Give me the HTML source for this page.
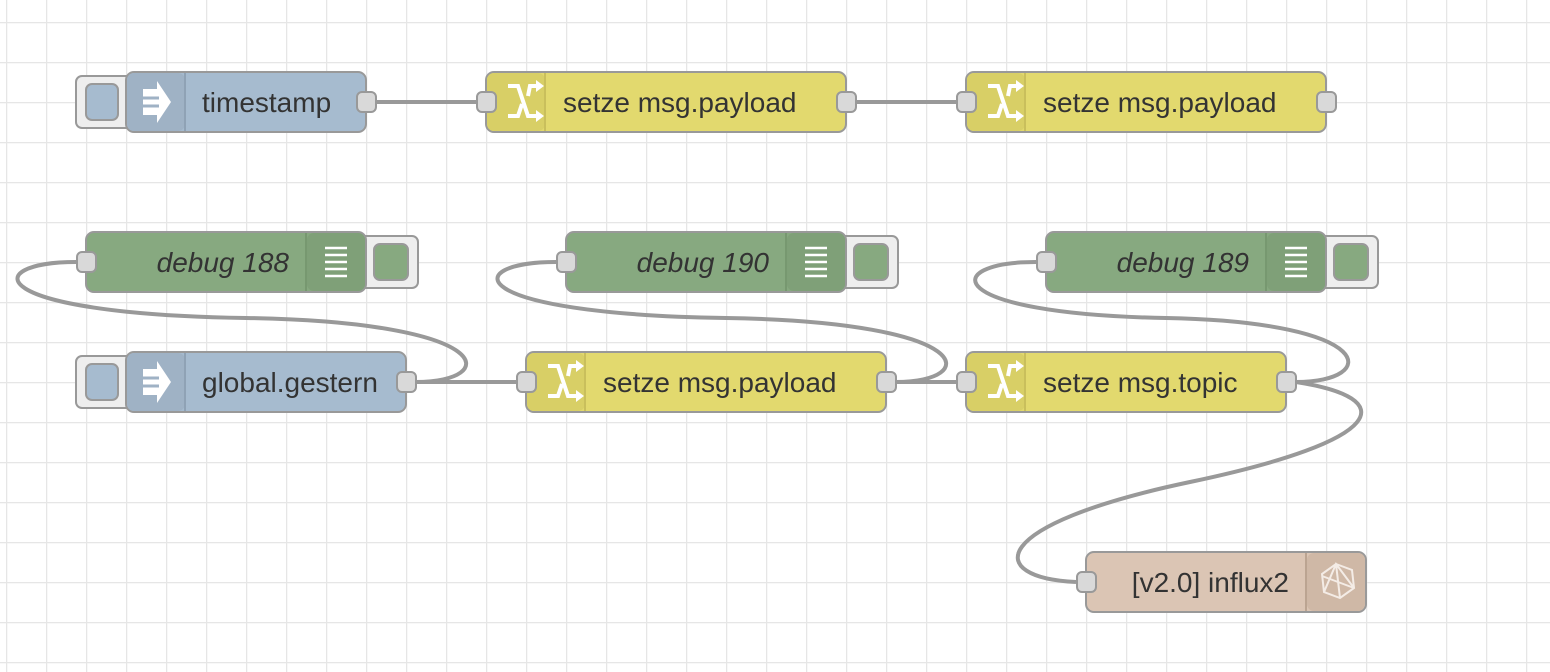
<!DOCTYPE html>
<html><head><meta charset="utf-8"><style>
html,body{margin:0;padding:0;background:#fff;width:1550px;height:672px;overflow:hidden}
svg text{font-family:"Liberation Sans",Helvetica,Arial,sans-serif;font-size:28px;fill:#333}
</style></head><body>
<svg width="1550" height="672" xmlns="http://www.w3.org/2000/svg">
<defs>
<pattern id="g" x="6" y="22" width="40" height="40" patternUnits="userSpaceOnUse">
<path d="M0 0H40M0 0V40" stroke="#e6e6e6" stroke-width="2.5" fill="none"/>
</pattern>
<g id="chg"><path d="M12 6h10l10 30h10M12 36h10l4-12M32 16l2-10h8" stroke="#fff" stroke-width="4" fill="none"/><path d="M40 0l8 6-8 6zM40 30l8 6-8 6z" fill="#fff"/></g>
<g id="inj"><path d="M0 -13h14v-8l14 21-14 21v-8H0z" fill="#fff"/><path d="M0 -4h16M0 4h16" stroke="#9fb2c5" stroke-width="3"/></g>
<g id="dbg"><path d="M0 0h22M0 7h22M0 14h22M0 21h22M0 28h22" stroke="#fff" stroke-width="2.5"/></g>
</defs>
<rect width="1550" height="672" fill="url(#g)"/>
<g fill="none" stroke="#999" stroke-width="4">
<path d="M376 102H476"/><path d="M856 102H956"/>
<path d="M416 382H516"/><path d="M896 382H956"/>
<path d="M416 382C500 382 500 322 246 318C-20 314 -20 262 76 262"/>
<path d="M896 382C980 382 980 322 726 318C460 314 460 262 556 262"/>
<path d="M1296 382C1380 382 1380 322 1166 318C940 314 940 262 1036 262"/>
<path d="M1296 382C1400 398 1390 440 1190 482C985 525 985 578 1076 582"/>
</g>
<g stroke="#999" stroke-width="2">
<rect x="76" y="76" width="60" height="52" rx="6" fill="#eee"/>
<rect x="86" y="84" width="32" height="36" rx="6" fill="#a6bbcf"/>
<rect x="126" y="72" width="240" height="60" rx="8" fill="#a6bbcf"/>
<rect x="127" y="73" width="58" height="58" rx="7" fill="#9fb2c5" stroke="none"/>
<line x1="185" y1="73" x2="185" y2="131" stroke="#8fa2b5"/>
<rect x="76" y="356" width="60" height="52" rx="6" fill="#eee"/>
<rect x="86" y="364" width="32" height="36" rx="6" fill="#a6bbcf"/>
<rect x="126" y="352" width="280" height="60" rx="8" fill="#a6bbcf"/>
<rect x="127" y="353" width="58" height="58" rx="7" fill="#9fb2c5" stroke="none"/>
<line x1="185" y1="353" x2="185" y2="411" stroke="#8fa2b5"/>
<rect x="486" y="72" width="360" height="60" rx="8" fill="#e2d96e"/>
<rect x="487" y="73" width="58" height="58" rx="7" fill="#d8cf66" stroke="none"/><line x1="545" y1="73" x2="545" y2="131" stroke="#c9bf5c"/>
<rect x="966" y="72" width="360" height="60" rx="8" fill="#e2d96e"/>
<rect x="967" y="73" width="58" height="58" rx="7" fill="#d8cf66" stroke="none"/><line x1="1025" y1="73" x2="1025" y2="131" stroke="#c9bf5c"/>
<rect x="526" y="352" width="360" height="60" rx="8" fill="#e2d96e"/>
<rect x="527" y="353" width="58" height="58" rx="7" fill="#d8cf66" stroke="none"/><line x1="585" y1="353" x2="585" y2="411" stroke="#c9bf5c"/>
<rect x="966" y="352" width="320" height="60" rx="8" fill="#e2d96e"/>
<rect x="967" y="353" width="58" height="58" rx="7" fill="#d8cf66" stroke="none"/><line x1="1025" y1="353" x2="1025" y2="411" stroke="#c9bf5c"/>
<rect x="356" y="236" width="62" height="52" rx="6" fill="#eee"/><rect x="374" y="244" width="34" height="36" rx="6" fill="#87a980"/>
<rect x="86" y="232" width="280" height="60" rx="8" fill="#87a980"/>
<rect x="307" y="233" width="58" height="58" rx="7" fill="#7fa078" stroke="none"/><line x1="306" y1="233" x2="306" y2="291" stroke="#779870"/>
<rect x="836" y="236" width="62" height="52" rx="6" fill="#eee"/><rect x="854" y="244" width="34" height="36" rx="6" fill="#87a980"/>
<rect x="566" y="232" width="280" height="60" rx="8" fill="#87a980"/>
<rect x="787" y="233" width="58" height="58" rx="7" fill="#7fa078" stroke="none"/><line x1="786" y1="233" x2="786" y2="291" stroke="#779870"/>
<rect x="1316" y="236" width="62" height="52" rx="6" fill="#eee"/><rect x="1334" y="244" width="34" height="36" rx="6" fill="#87a980"/>
<rect x="1046" y="232" width="280" height="60" rx="8" fill="#87a980"/>
<rect x="1267" y="233" width="58" height="58" rx="7" fill="#7fa078" stroke="none"/><line x1="1266" y1="233" x2="1266" y2="291" stroke="#779870"/>
<rect x="1086" y="552" width="280" height="60" rx="8" fill="#dbc5b4"/>
<rect x="1307" y="553" width="58" height="58" rx="7" fill="#cfb8a6" stroke="none"/><line x1="1306" y1="553" x2="1306" y2="611" stroke="#bba491"/>
<g fill="#d9d9d9">
<rect x="357" y="92" width="19" height="20" rx="5"/><rect x="477" y="92" width="19" height="20" rx="5"/>
<rect x="837" y="92" width="19" height="20" rx="5"/><rect x="957" y="92" width="19" height="20" rx="5"/>
<rect x="1317" y="92" width="19" height="20" rx="5"/>
<rect x="77" y="252" width="19" height="20" rx="5"/><rect x="557" y="252" width="19" height="20" rx="5"/><rect x="1037" y="252" width="19" height="20" rx="5"/>
<rect x="397" y="372" width="19" height="20" rx="5"/><rect x="517" y="372" width="19" height="20" rx="5"/>
<rect x="877" y="372" width="19" height="20" rx="5"/><rect x="957" y="372" width="19" height="20" rx="5"/>
<rect x="1277" y="372" width="19" height="20" rx="5"/><rect x="1077" y="572" width="19" height="20" rx="5"/>
</g>
</g>
<use href="#inj" x="143" y="102"/><use href="#inj" x="143" y="382"/>
<use href="#chg" x="496" y="80"/><use href="#chg" x="976" y="80"/><use href="#chg" x="536" y="360"/><use href="#chg" x="976" y="360"/>
<use href="#dbg" x="325" y="248"/><use href="#dbg" x="805" y="248"/><use href="#dbg" x="1285" y="248"/>
<g fill="none" stroke="#f4ece6" stroke-width="2"><path d="M1336 564l16 6 2 18-14 10-16-6-2-18z"/><path d="M1336 564l4 34M1322 576l32 12M1324 592l12-28 18 24"/></g>
<text x="202" y="112">timestamp</text>
<text x="563" y="112">setze msg.payload</text>
<text x="1043" y="112">setze msg.payload</text>
<text x="289" y="272" text-anchor="end" font-style="italic">debug 188</text>
<text x="769" y="272" text-anchor="end" font-style="italic">debug 190</text>
<text x="1249" y="272" text-anchor="end" font-style="italic">debug 189</text>
<text x="202" y="392">global.gestern</text>
<text x="603" y="392">setze msg.payload</text>
<text x="1043" y="392">setze msg.topic</text>
<text x="1289" y="592" text-anchor="end">[v2.0] influx2</text>
</svg>
</body></html>
